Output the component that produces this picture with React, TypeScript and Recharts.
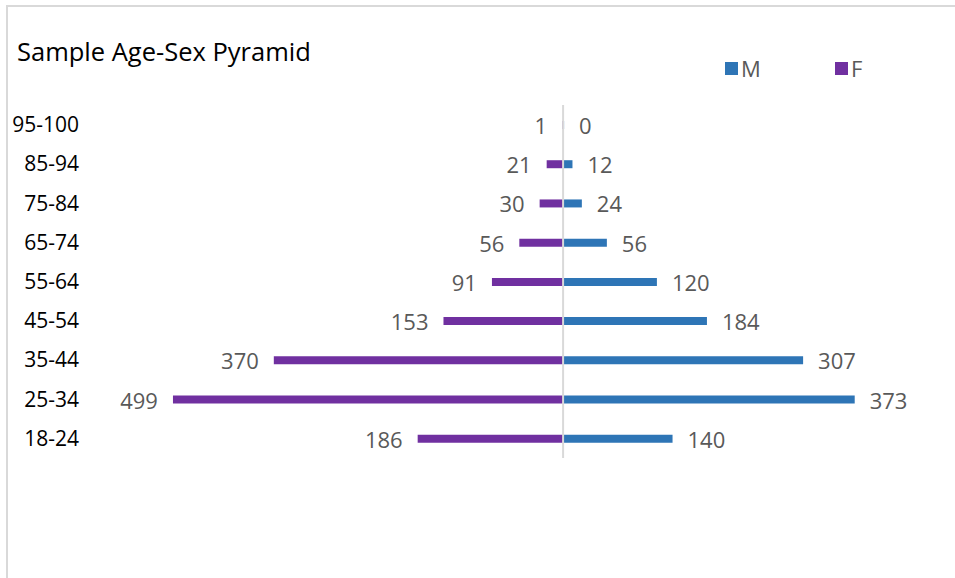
import React from 'react';
import { BarChart, Bar, XAxis, YAxis, LabelList, ReferenceLine, Legend } from 'recharts';

// Age groups, bottom to top
const ageGroups = ['18-24', '25-34', '35-44', '45-54', '55-64', '65-74', '75-84', '85-94', '95-100'];
// Counts per age group
const maleCounts = [140, 373, 307, 184, 120, 56, 24, 12, 0];
const femaleCounts = [186, 499, 370, 153, 91, 56, 30, 21, 1];

const MALE_COLOR = '#2e75b6';
const FEMALE_COLOR = '#7030a0';
const FONT = '"Open Sans", sans-serif';

// Females are plotted to the left of zero
const rows = ageGroups.map((age, i) => ({
  age,
  M: maleCounts[i],
  F: -femaleCounts[i],
}));

const ValueLabel = (props: any) => {
  const { x, y, width, height, value } = props;
  const left = Math.min(x, x + width);
  const right = Math.max(x, x + width);
  const negative = value < 0;
  return (
    <text
      x={negative ? left - 15 : right + 15}
      y={y + height / 2}
      textAnchor={negative ? 'end' : 'start'}
      dominantBaseline="central"
      fill="#595959"
      fontSize={22}
      fontFamily={FONT}
    >
      {Math.abs(value)}
    </text>
  );
};

const LegendContent = () => (
  <div style={{ display: 'flex', fontFamily: FONT, fontSize: 22, color: '#595959', lineHeight: '26px' }}>
    {[
      { name: 'M', color: MALE_COLOR },
      { name: 'F', color: FEMALE_COLOR },
    ].map((item) => (
      <div key={item.name} style={{ display: 'flex', alignItems: 'center', width: 110 }}>
        <span style={{ display: 'inline-block', width: 13, height: 13, background: item.color, marginRight: 3 }} />
        <span>{item.name}</span>
      </div>
    ))}
  </div>
);

export default function App() {
  return (
    <div style={{ position: 'absolute', left: 0, top: 0, width: 955, height: 578, overflow: 'hidden', background: '#fff' }}>
      <div
        style={{
          position: 'absolute',
          left: 6,
          top: 5,
          width: 1000,
          height: 1000,
          border: '2px solid #d9d9d9',
          boxSizing: 'border-box',
        }}
      />
      <div
        style={{
          position: 'absolute',
          left: 17,
          top: 34,
          fontFamily: FONT,
          fontSize: 25.5,
          color: '#000',
          whiteSpace: 'nowrap',
        }}
      >
        Sample Age-Sex Pyramid
      </div>
      <div style={{ position: 'absolute', left: 0, top: 0 }}>
        <BarChart
          width={955}
          height={578}
          data={rows}
          layout="vertical"
          stackOffset="sign"
          margin={{ top: 105, right: 1, bottom: 120, left: 0 }}
        >
          <XAxis type="number" domain={[-600, 500]} hide />
          <YAxis
            type="category"
            dataKey="age"
            reversed
            width={94}
            axisLine={false}
            tickLine={false}
            tickSize={0}
            tickMargin={15}
            tick={{ fill: '#000', fontSize: 21, fontFamily: FONT }}
          />
          <Legend
            content={<LegendContent />}
            wrapperStyle={{ position: 'absolute', left: 725, top: 55, width: 230, height: 0, overflow: 'visible' }}
          />
          <Bar dataKey="M" name="M" stackId="pop" fill={MALE_COLOR} barSize={8} minPointSize={1} isAnimationActive={false}>
            <LabelList dataKey="M" content={<ValueLabel />} />
          </Bar>
          <Bar dataKey="F" name="F" stackId="pop" fill={FEMALE_COLOR} barSize={8} minPointSize={1} isAnimationActive={false}>
            <LabelList dataKey="F" content={<ValueLabel />} />
          </Bar>
          <ReferenceLine x={0} stroke="#d9d9d9" strokeWidth={2} />
        </BarChart>
      </div>
    </div>
  );
}
